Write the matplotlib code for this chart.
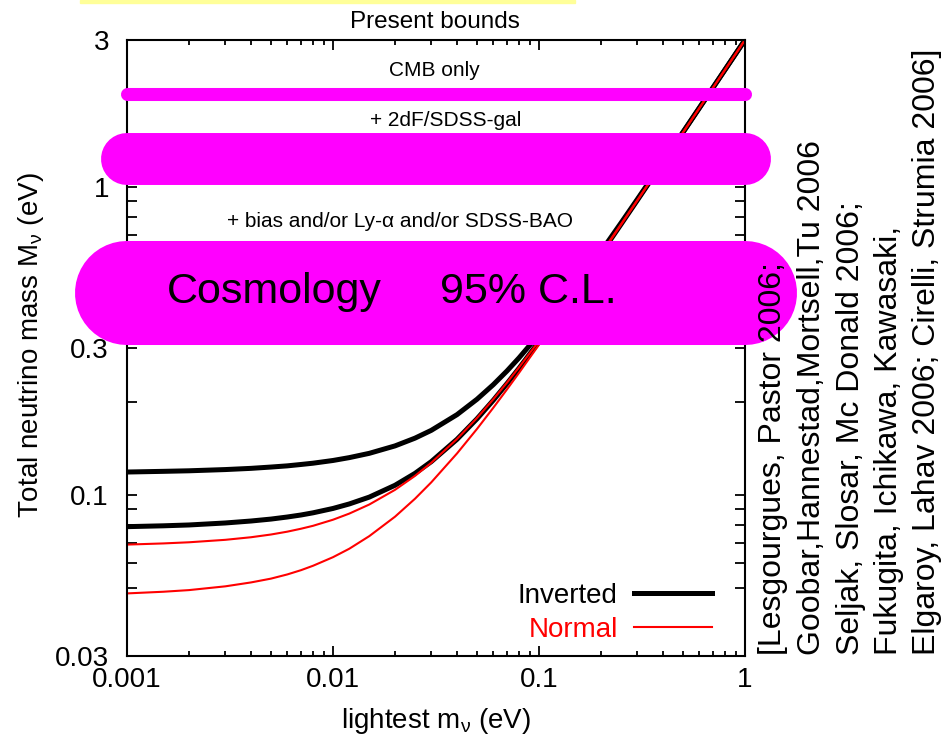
import matplotlib
matplotlib.use('Agg')
from matplotlib import pyplot as plt
from matplotlib.patches import Rectangle

plt.rcParams['font.family'] = ['Liberation Sans', 'DejaVu Sans']
plt.rcParams['mathtext.fontset'] = 'custom'
plt.rcParams['mathtext.rm'] = 'Liberation Sans'
plt.rcParams['mathtext.it'] = 'Liberation Sans'

# lightest neutrino mass (eV)
m_light = [0.001, 0.0015, 0.002, 0.003, 0.004, 0.005, 0.006, 0.007, 0.008, 0.01,
           0.012, 0.015, 0.02, 0.025, 0.03, 0.04, 0.05, 0.06, 0.07, 0.08,
           0.1, 0.12, 0.15, 0.2, 0.25, 0.3, 0.4, 0.5, 0.7, 1.0]

# total mass, inverted hierarchy (upper / lower edge)
inv_hi = [0.1187, 0.1193, 0.1198, 0.1209, 0.1220, 0.1232, 0.1243, 0.1256, 0.1268, 0.1294,
          0.1322, 0.1365, 0.1443, 0.1529, 0.1621, 0.1823, 0.2045, 0.2281, 0.2529, 0.2787,
          0.3321, 0.3873, 0.4723, 0.6170, 0.7637, 0.9114, 1.2086, 1.5069, 2.1049, 3.0035]
inv_lo = [0.0789, 0.0794, 0.0799, 0.0811, 0.0823, 0.0835, 0.0848, 0.0861, 0.0875, 0.0904,
          0.0935, 0.0984, 0.1075, 0.1175, 0.1283, 0.1516, 0.1767, 0.2030, 0.2302, 0.2579,
          0.3146, 0.3723, 0.4599, 0.6075, 0.7560, 0.9050, 1.2038, 1.5030, 2.1022, 3.0015]

# total mass, normal hierarchy (upper / lower edge)
norm_hi = [0.0690, 0.0696, 0.0702, 0.0715, 0.0729, 0.0744, 0.0760, 0.0777, 0.0794, 0.0831,
           0.0870, 0.0931, 0.1039, 0.1153, 0.1272, 0.1520, 0.1778, 0.2045, 0.2319, 0.2597,
           0.3163, 0.3739, 0.4613, 0.6086, 0.7569, 0.9058, 1.2044, 1.5035, 2.1025, 3.0018]
norm_lo = [0.0479, 0.0485, 0.0491, 0.0505, 0.0520, 0.0535, 0.0552, 0.0570, 0.0589, 0.0628,
           0.0669, 0.0735, 0.0850, 0.0972, 0.1099, 0.1364, 0.1638, 0.1919, 0.2204, 0.2492,
           0.3075, 0.3663, 0.4551, 0.6038, 0.7531, 0.9026, 1.2019, 1.5016, 2.1011, 3.0008]

# cosmological upper bounds
band_names = ['CMB only', '+ 2dF/SDSS-gal', '+ bias and/or Ly-α and/or SDSS-BAO']
band_level = [2.0, 1.23, 0.454]
band_range = [0.001, 1.0]

refs = ['[Lesgourgues, Pastor 2006;',
        'Goobar,Hannestad,Mortsell,Tu 2006',
        'Seljak, Slosar, Mc Donald 2006;',
        'Fukugita, Ichikawa, Kawasaki,',
        'Elgaroy, Lahav 2006; Cirelli, Strumia 2006]']

fig = plt.figure(figsize=(9.41, 7.36), dpi=100)
ax = fig.add_axes([127/941, 80/736, 618/941, 616/736])

ax.plot(m_light, inv_hi, color='black', lw=3.6, zorder=2, label='Inverted')
ax.plot(m_light, inv_lo, color='black', lw=3.6, zorder=2)
ax.plot(m_light, norm_hi, color='red', lw=1.5, zorder=2.1, label='Normal')
ax.plot(m_light, norm_lo, color='red', lw=1.5, zorder=2.1)

ax.set_xscale('log')
ax.set_yscale('log')
ax.set_xlim(0.001, 1)
ax.set_ylim(0.03, 3)

ax.set_xticks([0.001, 0.01, 0.1, 1])
ax.set_xticklabels(['0.001', '0.01', '0.1', '1'])
ax.set_yticks([0.03, 0.1, 0.3, 1, 3])
ax.set_yticklabels(['0.03', '0.1', '0.3', '1', '3'])
ax.set_yticks([0.05, 0.06, 0.07, 0.08, 0.09, 0.2, 0.4, 0.5, 0.6, 0.7, 0.8, 0.9, 2],
              minor=True)
ax.yaxis.set_minor_formatter(plt.NullFormatter())
ax.xaxis.set_minor_formatter(plt.NullFormatter())
ax.tick_params(which='both', direction='in', top=True, right=True,
               labelsize=20, width=1.3, color='black')
ax.tick_params(axis='x', which='major', length=7.2, pad=8)
ax.tick_params(axis='x', which='minor', length=3.6)
ax.tick_params(axis='y', which='both', length=7.2, pad=13)
for sp in ax.spines.values():
    sp.set_linewidth(1.5)

ax.set_xlabel(r'lightest m$_{\nu}$ (eV)', fontsize=20)
ax.set_ylabel(r'Total neutrino mass M$_{\nu}$ (eV)', fontsize=20)
ax.xaxis.set_label_coords(0.5, -0.105)
ax.xaxis.label.set_verticalalignment('center')
ax.yaxis.set_label_coords(-0.155, 0.505)
ax.yaxis.label.set_verticalalignment('center')

# bounds drawn as fat round-capped strokes over everything in the axes
band_lw = [9.4, 37.4, 74.9]
for lvl, lw in zip(band_level, band_lw):
    ax.plot(band_range, [lvl, lvl], color='#ff00ff', lw=lw,
            solid_capstyle='round', zorder=5, clip_on=False)

ax.text(0.498, 1.029, 'Present bounds', transform=ax.transAxes,
        ha='center', va='center', fontsize=17.5)
label_pos = [(0.498, 0.950), (0.516, 0.870), (0.442, 0.706)]
for name, (tx, ty) in zip(band_names, label_pos):
    ax.text(tx, ty, name, transform=ax.transAxes, ha='center', va='center',
            fontsize=15, zorder=6)
ax.text(0.065, 0.591, 'Cosmology', transform=ax.transAxes, ha='left',
        va='center', fontsize=31, zorder=6)
ax.text(0.506, 0.591, '95% C.L.', transform=ax.transAxes, ha='left',
        va='center', fontsize=31, zorder=6)

leg = ax.legend(loc='lower right', bbox_to_anchor=(0.947, 0.021),
                frameon=False, markerfirst=False, fontsize=20,
                handlelength=2.8, handletextpad=0.6, labelspacing=0.3,
                borderpad=0, borderaxespad=0, labelcolor='linecolor')

ref_x = [773, 812, 851, 889, 927]
for txt, xp in zip(refs, ref_x):
    fig.text(xp/941, 1 - 655/736, txt, rotation=90, ha='center',
             va='bottom', fontsize=23)

fig.patches.append(Rectangle((80/941, 733/736), 495/941, 3/736,
                             transform=fig.transFigure, color='#ffff99',
                             zorder=0))

fig.savefig('out.png', dpi=100)
